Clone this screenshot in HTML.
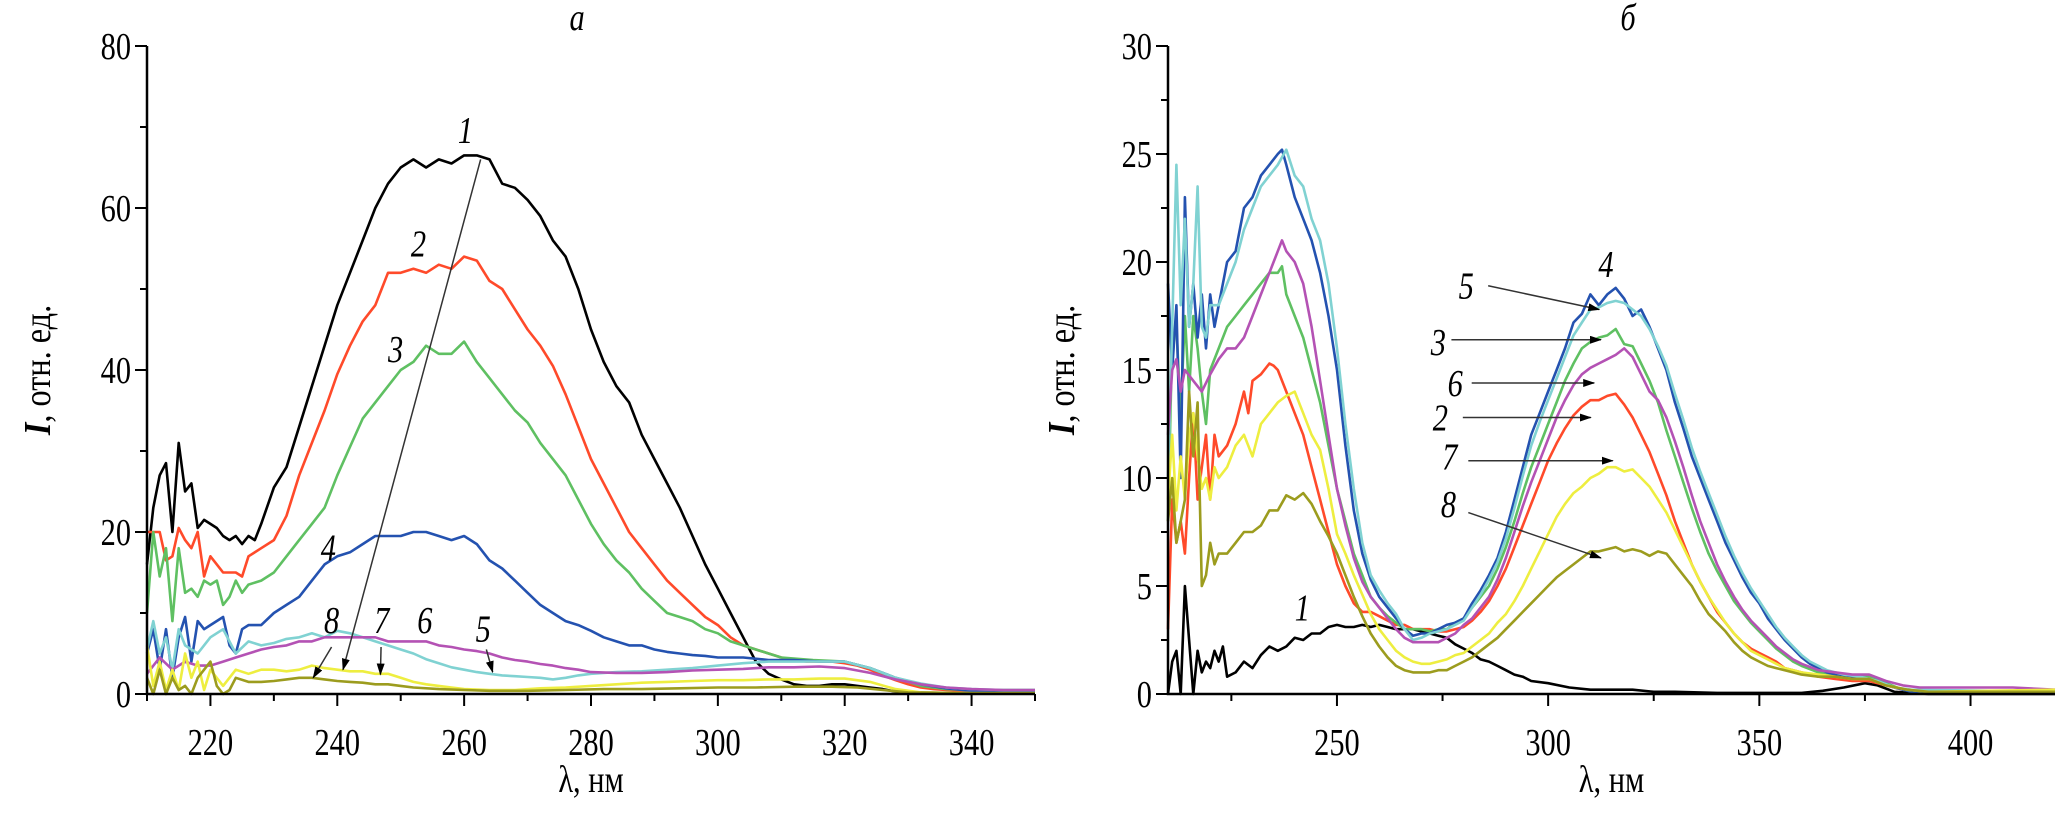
<!DOCTYPE html>
<html><head><meta charset="utf-8">
<style>
html,body{margin:0;padding:0;background:#fff;}
svg{display:block;font-family:"Liberation Serif",serif;}
svg text{font-family:"Liberation Serif","Times New Roman",serif;}
</style></head>
<body>
<svg id="chart" width="2067" height="814" viewBox="0 0 2067 814" xmlns="http://www.w3.org/2000/svg"></svg>
<script>
// ---------- Panel a data ----------
const aTicksX = [220,240,260,280,300,320,340];
const aTicksY = [0,20,40,60,80];
const a1 = [[210,16],[211,23],[212,27],[213,28.5],[214,20],[215,31],[216,25],[217,26],[218,20.5],[219,21.5],[220,21],[221,20.5],[222,19.5],[223,19],[224,19.5],[225,18.5],[226,19.5],[227,19],[228,21],[230,25.5],[232,28],[234,33],[236,38],[238,43],[240,48],[242,52],[244,56],[246,60],[248,63],[250,65],[252,66],[254,65],[256,66],[258,65.5],[260,66.5],[262,66.5],[264,66],[266,63],[268,62.5],[270,61],[272,59],[274,56],[276,54],[278,50],[280,45],[282,41],[284,38],[286,36],[288,32],[290,29],[292,26],[294,23],[296,19.5],[298,16],[300,13],[302,10],[304,7],[306,4],[308,2.5],[310,1.8],[312,1.2],[314,1],[316,1],[318,1.2],[320,1.2],[322,1],[324,0.8],[326,0.6],[328,0.3],[330,0.2],[340,0.1],[350,0.1]];
const a2 = [[210,20],[212,20],[213,16.5],[214,17],[215,20.5],[216,19],[217,18],[218,20],[219,14.5],[220,17],[221,16],[222,15],[224,15],[225,14.5],[226,17],[228,18],[230,19],[232,22],[234,27],[236,31],[238,35],[240,39.5],[242,43],[244,46],[246,48],[248,52],[250,52],[252,52.5],[254,52],[256,53],[258,52.5],[260,54],[262,53.5],[264,51],[266,50],[268,47.5],[270,45],[272,43],[274,40.5],[276,37],[278,33],[280,29],[282,26],[284,23],[286,20],[288,18],[290,16],[292,14],[294,12.5],[296,11],[298,9.5],[300,8.5],[302,7],[304,6],[306,5.5],[308,5],[310,4.5],[312,4.2],[314,4],[316,4],[318,4],[320,3.8],[322,3.5],[324,3],[326,2.3],[328,1.7],[330,1.2],[332,0.8],[334,0.6],[336,0.5],[340,0.4],[350,0.3]];
const a3 = [[210,10],[211,20],[212,14.5],[213,18],[214,9],[215,18],[216,12.5],[217,13],[218,12],[219,14],[220,13.5],[221,14],[222,11],[223,12],[224,14],[225,12.5],[226,13.5],[228,14],[230,15],[232,17],[234,19],[236,21],[238,23],[240,27],[242,30.5],[244,34],[246,36],[248,38],[250,40],[252,41],[254,43],[256,42],[258,42],[260,43.5],[262,41],[264,39],[266,37],[268,35],[270,33.5],[272,31],[274,29],[276,27],[278,24],[280,21],[282,18.5],[284,16.5],[286,15],[288,13],[290,11.5],[292,10],[294,9.5],[296,9],[298,8],[300,7.5],[302,6.5],[304,6],[306,5.5],[308,5],[310,4.5],[315,4.2],[320,4],[324,3.2],[328,2],[332,1],[336,0.6],[340,0.5],[350,0.5]];
const a4 = [[210,5],[211,8],[212,3],[213,8],[214,2],[215,7],[216,9.5],[217,4],[218,9],[219,8],[220,8.5],[222,9.5],[223,6],[224,5],[225,8],[226,8.5],[228,8.5],[230,10],[232,11],[234,12],[236,14],[238,16],[240,17],[242,17.5],[244,18.5],[246,19.5],[248,19.5],[250,19.5],[252,20],[254,20],[256,19.5],[258,19],[260,19.5],[262,18.5],[264,16.5],[266,15.5],[268,14],[270,12.5],[272,11],[274,10],[276,9],[278,8.5],[280,7.8],[282,7],[284,6.5],[286,6],[288,6],[290,5.5],[292,5.2],[294,5],[296,4.8],[298,4.7],[300,4.5],[304,4.5],[308,4.2],[312,4.2],[316,4],[320,4],[324,3.2],[328,2],[332,1.2],[336,0.7],[340,0.4],[345,0.3],[350,0.3]];
const a5 = [[210,5.5],[211,9],[212,5],[213,7],[214,3],[215,8],[216,6],[218,5],[220,7],[222,8],[224,5],[226,6.5],[228,6],[230,6.3],[232,6.8],[234,7],[236,7.5],[238,7],[240,7.8],[242,7.5],[244,7],[246,6.5],[248,6],[250,5.5],[252,5],[254,4.3],[256,3.8],[258,3.3],[260,3],[262,2.7],[264,2.5],[266,2.3],[268,2.2],[270,2.1],[272,2],[274,1.8],[276,2],[278,2.3],[280,2.5],[284,2.7],[288,2.8],[292,3],[296,3.2],[300,3.5],[304,3.8],[308,4],[312,4],[316,4],[320,4],[324,3.2],[328,2],[332,1.3],[336,0.8],[340,0.6],[345,0.5],[350,0.5]];
const a6 = [[210,2.5],[212,4.5],[214,3],[216,4],[218,3.5],[220,3.5],[222,4],[224,4.5],[226,5],[228,5.5],[230,5.8],[232,6],[234,6.5],[236,6.5],[238,7],[240,7],[242,7],[244,7],[246,7],[248,6.5],[250,6.5],[252,6.5],[254,6.5],[256,6],[258,5.8],[260,5.5],[262,5.3],[264,5],[266,4.5],[268,4.2],[270,4],[272,3.7],[274,3.5],[276,3.2],[278,3],[280,2.7],[284,2.6],[288,2.6],[292,2.7],[296,2.9],[300,3],[304,3.1],[308,3.3],[312,3.3],[316,3.4],[320,3.2],[324,2.6],[328,1.8],[332,1.2],[336,0.8],[340,0.6],[345,0.5],[350,0.5]];
const a7 = [[210,6],[211,1],[212,4],[213,0.5],[214,3],[215,0.5],[216,5],[217,2],[218,4],[219,0.5],[220,3],[222,1],[224,3],[226,2.5],[228,3],[230,3],[232,2.8],[234,3],[236,3.5],[238,3.2],[240,3],[242,2.8],[244,2.8],[246,2.5],[248,2.5],[250,2],[252,1.5],[254,1.2],[256,1],[258,0.8],[260,0.6],[264,0.5],[268,0.5],[272,0.7],[276,0.8],[280,1],[284,1.2],[288,1.4],[292,1.5],[296,1.6],[300,1.7],[304,1.7],[308,1.8],[312,1.8],[316,1.9],[320,1.9],[324,1.5],[328,0.6],[332,0.2],[340,0.1],[350,0.1]];
const a8 = [[210,2],[211,0],[212,3],[213,0],[214,2],[215,0.5],[216,1],[217,0],[218,2],[219,3],[220,4],[221,1],[222,0],[223,0.5],[224,2],[226,1.5],[228,1.5],[230,1.6],[232,1.8],[234,2],[236,2],[238,1.8],[240,1.6],[242,1.5],[244,1.4],[246,1.2],[248,1.2],[250,1],[252,0.8],[256,0.6],[260,0.5],[264,0.4],[270,0.4],[276,0.5],[282,0.6],[288,0.6],[294,0.7],[300,0.8],[306,0.8],[312,0.9],[318,0.9],[322,0.8],[326,0.5],[330,0.2],[340,0.1],[350,0.1]];

// ---------- Panel б data ----------
const bTicksX = [250,300,350,400];
const bTicksY = [0,5,10,15,20,25,30];
const b1 = [[210,0],[211,1.5],[212,2],[213,0],[214,5],[215,2.5],[216,0],[217,2],[218,1],[219,1.5],[220,1.2],[221,2],[222,1.5],[223,2.2],[224,0.8],[226,1],[228,1.5],[230,1.2],[232,1.8],[234,2.2],[236,2],[238,2.2],[240,2.6],[242,2.5],[244,2.8],[246,2.8],[248,3.1],[250,3.2],[252,3.1],[254,3.1],[256,3.2],[258,3.1],[260,3.2],[262,3.1],[264,3],[266,3],[268,3],[270,2.9],[272,2.8],[274,2.7],[276,2.6],[278,2.3],[280,2.1],[282,1.9],[284,1.6],[286,1.5],[288,1.3],[290,1.1],[292,0.9],[294,0.8],[296,0.6],[300,0.5],[305,0.3],[310,0.2],[315,0.2],[320,0.2],[325,0.1],[330,0.1],[340,0.05],[350,0.05],[360,0.05],[365,0.15],[370,0.3],[375,0.5],[378,0.4],[382,0.1],[390,0],[420,0]];
const b2 = [[210,3],[211,9],[212,7],[213,8],[214,6.5],[215,10],[216,13],[217,9],[218,10.5],[219,12],[220,9],[221,12],[222,11],[224,11.5],[226,12.5],[228,14],[229,13],[230,14.5],[232,14.8],[234,15.3],[235,15.2],[236,15],[238,14],[240,13],[242,12],[244,10.5],[246,9],[248,7.5],[250,6],[252,5],[254,4.2],[256,3.8],[258,3.8],[260,3.6],[262,3.4],[264,3.2],[266,3.2],[268,3],[270,3],[272,3],[274,2.9],[276,2.9],[278,3],[280,3.1],[282,3.4],[284,3.8],[286,4.3],[288,5],[290,5.8],[292,6.8],[294,7.8],[296,8.8],[298,9.8],[300,10.8],[302,11.6],[304,12.3],[306,12.9],[308,13.3],[310,13.6],[312,13.6],[314,13.8],[316,13.9],[318,13.4],[320,12.8],[322,12],[324,11.2],[326,10.2],[328,9.2],[330,8],[332,7],[334,6],[336,5.2],[338,4.5],[340,3.8],[342,3.3],[344,2.8],[346,2.4],[348,2.1],[350,1.9],[352,1.7],[354,1.5],[356,1.2],[358,1.1],[360,1],[364,0.8],[368,0.7],[372,0.6],[376,0.6],[380,0.4],[384,0.2],[390,0.1],[420,0.1]];
const b3 = [[210,8],[211,16.5],[212,17],[213,13],[214,17.5],[215,14],[216,17.5],[217,16],[218,14],[219,12.5],[220,15],[222,16],[224,17],[226,17.5],[228,18],[230,18.5],[232,19],[234,19.5],[236,19.5],[237,19.8],[238,18.5],[240,17.5],[242,16.5],[244,15],[246,13.5],[248,11.5],[250,9.5],[252,8],[254,6.5],[256,5.5],[258,4.5],[260,4],[262,3.6],[264,3.3],[266,3],[268,3],[270,3],[272,2.9],[274,3],[276,3],[278,3.3],[280,3.5],[282,4],[284,4.5],[286,5],[288,5.8],[290,6.8],[292,8],[294,9.3],[296,10.5],[298,11.5],[300,12.5],[302,13.5],[304,14.5],[306,15.3],[308,16],[310,16.3],[312,16.5],[314,16.6],[316,16.9],[318,16.2],[320,16.1],[322,15.3],[324,14.5],[326,13.5],[328,12.2],[330,11],[332,9.8],[334,8.6],[336,7.5],[338,6.5],[340,5.7],[342,5],[344,4.3],[346,3.8],[348,3.3],[350,2.9],[352,2.5],[354,2.1],[356,1.8],[358,1.5],[360,1.3],[364,1],[368,0.9],[372,0.8],[376,0.8],[380,0.5],[384,0.2],[390,0.1],[420,0.1]];
const b4 = [[210,19],[211,15],[212,18],[213,10],[214,23],[215,17],[216,19],[217,16.5],[218,18.5],[219,16],[220,18.5],[221,17],[222,18],[224,20],[226,20.5],[228,22.5],[230,23],[232,24],[234,24.5],[236,25],[237,25.2],[238,24.5],[240,23],[242,22],[244,21],[246,19.5],[248,17.5],[250,15],[252,11.5],[254,8.5],[256,6.5],[258,5.3],[260,4.5],[262,4],[264,3.5],[266,3],[268,2.7],[270,2.8],[272,2.8],[274,3],[276,3.2],[278,3.3],[280,3.5],[282,4.2],[284,4.8],[286,5.5],[288,6.3],[290,7.5],[292,9],[294,10.5],[296,12],[298,13],[300,14],[302,15],[304,16],[306,17.2],[308,17.6],[310,18.5],[312,18],[314,18.5],[316,18.8],[318,18.3],[320,17.5],[322,17.8],[324,17],[326,16],[328,15],[330,13.5],[332,12.3],[334,11],[336,10],[338,9],[340,8],[342,7],[344,6.2],[346,5.4],[348,4.7],[350,4.2],[352,3.5],[354,3],[356,2.5],[358,2.1],[360,1.7],[362,1.4],[364,1.2],[366,1],[368,0.9],[370,0.8],[374,0.8],[378,0.6],[382,0.3],[386,0.1],[420,0.1]];
const b5 = [[210,10],[211,17],[212,24.5],[213,18],[214,22],[215,17],[216,19],[217,23.5],[218,17],[219,16.5],[220,18],[222,18],[224,19],[226,20],[228,21.5],[230,22.5],[232,23.5],[234,24],[236,24.5],[238,25.2],[240,24],[242,23.5],[244,22],[246,21],[248,19],[250,16],[252,12.5],[254,9.5],[256,7],[258,5.5],[260,4.8],[262,4.2],[264,3.7],[266,3],[268,2.5],[270,2.6],[272,2.8],[274,2.9],[276,3],[278,3.2],[280,3.4],[282,4],[284,4.6],[286,5.3],[288,6.1],[290,7.2],[292,8.6],[294,10.1],[296,11.5],[298,12.6],[300,13.6],[302,14.6],[304,15.6],[306,16.6],[308,17.2],[310,17.8],[312,17.9],[314,18.1],[316,18.2],[318,18.1],[320,17.8],[322,17.5],[324,16.9],[326,16.1],[328,15.2],[330,13.9],[332,12.7],[334,11.4],[336,10.3],[338,9.3],[340,8.3],[342,7.3],[344,6.4],[346,5.6],[348,4.9],[350,4.3],[352,3.7],[354,3.1],[356,2.6],[358,2.2],[360,1.8],[362,1.5],[364,1.3],[366,1.1],[368,1],[370,0.9],[374,0.8],[378,0.6],[382,0.3],[386,0.2],[420,0.1]];
const b6 = [[210,12],[211,15],[212,15.5],[213,14],[214,15],[216,14.5],[218,14],[220,14.8],[222,15.5],[224,16],[226,16],[228,16.5],[230,17.5],[232,18.5],[234,19.5],[236,20.5],[237,21],[238,20.5],[240,20],[242,19],[244,17],[246,14.5],[248,12],[250,9.5],[252,7.8],[254,6.3],[256,5.2],[258,4.5],[260,4],[262,3.5],[264,3],[266,2.6],[268,2.4],[270,2.4],[272,2.4],[274,2.4],[276,2.6],[278,2.8],[280,3.2],[282,3.5],[284,4],[286,4.5],[288,5.3],[290,6.3],[292,7.5],[294,8.7],[296,9.8],[298,10.8],[300,11.8],[302,12.8],[304,13.6],[306,14.3],[308,14.8],[310,15.1],[312,15.3],[314,15.5],[316,15.7],[318,16],[320,15.6],[322,14.8],[324,14],[326,13.6],[328,12.8],[330,11.7],[332,10.5],[334,9.2],[336,8],[338,7],[340,6],[342,5.2],[344,4.5],[346,3.9],[348,3.4],[350,3],[352,2.6],[354,2.2],[356,1.9],[358,1.6],[360,1.4],[364,1.1],[368,1],[372,0.9],[376,0.9],[380,0.6],[384,0.4],[388,0.3],[400,0.3],[410,0.3],[420,0.2]];
const b7 = [[210,9],[211,12],[212,8.5],[213,11],[214,9],[215,12],[216,13],[217,11],[218,9.5],[219,10],[220,9],[221,10.5],[222,10],[224,10.5],[226,11.5],[228,12],[230,11],[232,12.5],[234,13],[236,13.5],[238,13.8],[240,14],[242,13],[244,12],[246,11.3],[248,9.5],[250,7.4],[252,6.5],[254,5.5],[256,4.6],[258,3.7],[260,3],[262,2.5],[264,2],[266,1.7],[268,1.5],[270,1.4],[272,1.4],[274,1.5],[276,1.6],[278,1.8],[280,1.9],[282,2.2],[284,2.5],[286,2.8],[288,3.3],[290,3.7],[292,4.3],[294,5],[296,5.8],[298,6.6],[300,7.4],[302,8.2],[304,8.8],[306,9.3],[308,9.6],[310,10],[312,10.2],[314,10.5],[316,10.5],[318,10.3],[320,10.4],[322,10],[324,9.6],[326,9],[328,8.4],[330,7.6],[332,6.8],[334,6],[336,5.2],[338,4.5],[340,3.9],[342,3.3],[344,2.8],[346,2.4],[348,2],[350,1.8],[352,1.6],[354,1.4],[356,1.2],[358,1.1],[360,1],[364,0.9],[368,0.8],[372,0.7],[376,0.7],[380,0.4],[385,0.2],[390,0.1],[420,0.2]];
const b8 = [[210,8],[211,10],[212,7],[213,8],[214,9],[215,14],[216,11],[217,13.5],[218,5],[219,5.5],[220,7],[221,6],[222,6.5],[224,6.5],[226,7],[228,7.5],[230,7.5],[232,7.8],[234,8.5],[236,8.5],[238,9.2],[240,9],[242,9.3],[244,8.8],[246,8],[248,7.3],[250,6.5],[252,5.5],[254,4.5],[256,3.6],[258,2.8],[260,2.2],[262,1.7],[264,1.3],[266,1.1],[268,1],[270,1],[272,1],[274,1.1],[276,1.1],[278,1.3],[280,1.5],[282,1.7],[284,2],[286,2.3],[288,2.6],[290,3],[292,3.4],[294,3.8],[296,4.2],[298,4.6],[300,5],[302,5.4],[304,5.7],[306,6],[308,6.3],[310,6.6],[312,6.6],[314,6.7],[316,6.8],[318,6.6],[320,6.7],[322,6.6],[324,6.4],[326,6.6],[328,6.5],[330,6],[332,5.5],[334,5],[336,4.3],[338,3.7],[340,3.3],[342,2.9],[344,2.4],[346,2],[348,1.7],[350,1.5],[352,1.3],[354,1.2],[356,1.1],[358,1],[360,0.9],[364,0.8],[368,0.8],[372,0.7],[376,0.7],[380,0.4],[385,0.2],[390,0.1],[420,0.1]];

const colors = ['#000000','#ff4a2a','#5fc062','#2452b0','#80d2d2','#b452b4','#eeee40','#9c9c1e'];
const aSeries = [a1,a2,a3,a4,a5,a6,a7,a8];
const bSeries = [b1,b2,b3,b4,b5,b6,b7,b8];

const NS = 'http://www.w3.org/2000/svg';
const FONT = '"Liberation Serif", "Times New Roman", serif';
const SQ = 0.8;
const svg = document.getElementById('chart');
function mk(tag, attrs, parent){
  const e = document.createElementNS(NS, tag);
  for (const k in attrs) e.setAttribute(k, attrs[k]);
  (parent||svg).appendChild(e);
  return e;
}
function txt(parent, x, y, size, anchor, content, extra){
  const t = mk('text', Object.assign({x: (x / SQ).toFixed(1), y: y, 'font-size': size, 'text-anchor': anchor, 'font-family': FONT, transform: `scale(${SQ} 1)`}, extra || {}), parent);
  t.textContent = content;
  return t;
}
function axisFns(x0,x1,xmin,xmax,ymax){
  const Y0 = 694, YT = 46;
  return {
    sx: v => x0 + (v - xmin) * (x1 - x0) / (xmax - xmin),
    sy: v => Y0 - v * (Y0 - YT) / ymax,
    Y0, YT
  };
}
function drawPanel(id, x0, x1, xmin, xmax, ymax, xt, xminor, yt, yminor, series, title, titleX, yTitleX){
  const g = mk('g', {});
  
  
  const A = axisFns(x0,x1,xmin,xmax,ymax);
  series.forEach((s, i) => {
    const d = s.map((p, j) => (j ? 'L' : 'M') + A.sx(p[0]).toFixed(1) + ' ' + A.sy(p[1]).toFixed(1)).join(' ');
    const path = mk('path', {d: d, fill: 'none', stroke: colors[i], 'stroke-width': 2.6, 'stroke-linejoin': 'round'}, g);
    
    
  });
  const ax = mk('path', {d: `M${x0} ${A.YT} L${x0} ${A.Y0} L${x1} ${A.Y0}`, fill: 'none', stroke: '#000', 'stroke-width': 2.5}, g);
  
  
  xt.forEach(v => {
    const X = A.sx(v);
    mk('line', {x1: X, y1: A.Y0, x2: X, y2: A.Y0 + 12, stroke: '#000', 'stroke-width': 2}, g);
    const t = txt(g, X, 755, 38, 'middle', String(v));
    
    
  });
  xminor.forEach(v => {
    const X = A.sx(v);
    mk('line', {x1: X, y1: A.Y0, x2: X, y2: A.Y0 + 7, stroke: '#000', 'stroke-width': 2}, g);
  });
  yt.forEach(v => {
    const Y = A.sy(v);
    mk('line', {x1: x0 - 12, y1: Y, x2: x0, y2: Y, stroke: '#000', 'stroke-width': 2}, g);
    const t = txt(g, x0 - 16, Y + 13, 38, 'end', String(v));
    
    
  });
  yminor.forEach(v => {
    const Y = A.sy(v);
    mk('line', {x1: x0 - 7, y1: Y, x2: x0, y2: Y, stroke: '#000', 'stroke-width': 2}, g);
  });
  const xtl = txt(g, (x0 + x1) / 2, 792, 38, 'middle', 'λ, нм');
  
  
  const ytl = mk('text', {x: 0, y: 0, 'font-size': 38, 'font-family': FONT, 'text-anchor': 'middle', transform: `translate(${yTitleX} 370) rotate(-90) scale(0.85 1)`}, g);
  ytl.innerHTML = '<tspan font-style="italic" font-weight="bold">I</tspan>, отн. ед.';
  
  
  const tt = txt(g, titleX, 30, 38, 'middle', title, {'font-style': 'italic'});
  
  
  return {g, A};
}

const defs = mk('defs', {});
const mkr = mk('marker', {id: 'arr', markerWidth: 12, markerHeight: 8, refX: 11, refY: 4, orient: 'auto', markerUnits: 'userSpaceOnUse'}, defs);
mk('path', {d: 'M0 0 L12 4 L0 8 Z', fill: '#000'}, mkr);

const P1 = drawPanel('panel-a', 147, 1035, 210, 350, 80, aTicksX, [210,230,250,270,290,310,330,350], aTicksY, [10,30,50,70], aSeries, 'a', 577, 50);
const P2 = drawPanel('panel-b', 1168, 2055, 210, 420, 30, bTicksX, [225,275,325,375], bTicksY, [2.5,7.5,12.5,17.5,22.5,27.5], bSeries, 'б', 1628, 1074);

const aLabels = ['1','2','3','4','5','6','7','8'];
const aLabelX = [260.2,252.8,249.2,238.6,263,253.8,247,239.1];
const aLabelY = [68,54,41,16.5,6.5,7.5,7.5,7.5];
const bLabels = ['1','2','3','4','5','6','7','8'];
const bLabelX = [241.8,274.5,274,313.7,280.6,278,276.7,276.4];
const bLabelY = [3.4,12.2,15.7,19.3,18.3,13.8,10.4,8.2];

function labels(P, L, LX, LY, id){
  L.forEach((s, i) => {
    const t = txt(P.g, P.A.sx(LX[i]), P.A.sy(LY[i]), 38, 'middle', s, {'font-style': 'italic'});
    
    
  });
}
labels(P1, aLabels, aLabelX, aLabelY, 'panel-a');
labels(P2, bLabels, bLabelX, bLabelY, 'panel-b');

function arrow(P, x1, y1, x2, y2, name){
  const l = mk('line', {x1: P.A.sx(x1), y1: P.A.sy(y1), x2: P.A.sx(x2), y2: P.A.sy(y2), stroke: '#333', 'stroke-width': 1.5, 'marker-end': 'url(#arr)'}, P.g);
  
  
}
arrow(P1, 262.6, 66, 240.9, 3, 'trend-line');
arrow(P1, 239.1, 5.8, 236.2, 2, 'arrow-8');
arrow(P1, 246.9, 5.8, 246.8, 2.4, 'arrow-7');
arrow(P1, 263.5, 5.5, 264.5, 2.7, 'arrow-5');
arrow(P2, 285.8, 18.9, 312.1, 17.8, 'arrow-5');
arrow(P2, 277.1, 16.4, 312.5, 16.4, 'arrow-3');
arrow(P2, 281.9, 14.4, 310.9, 14.4, 'arrow-6');
arrow(P2, 279.8, 12.8, 310.1, 12.8, 'arrow-2');
arrow(P2, 281.1, 10.8, 315.3, 10.8, 'arrow-7');
arrow(P2, 281.1, 8.4, 312.5, 6.3, 'arrow-8');
</script>
</body></html>
